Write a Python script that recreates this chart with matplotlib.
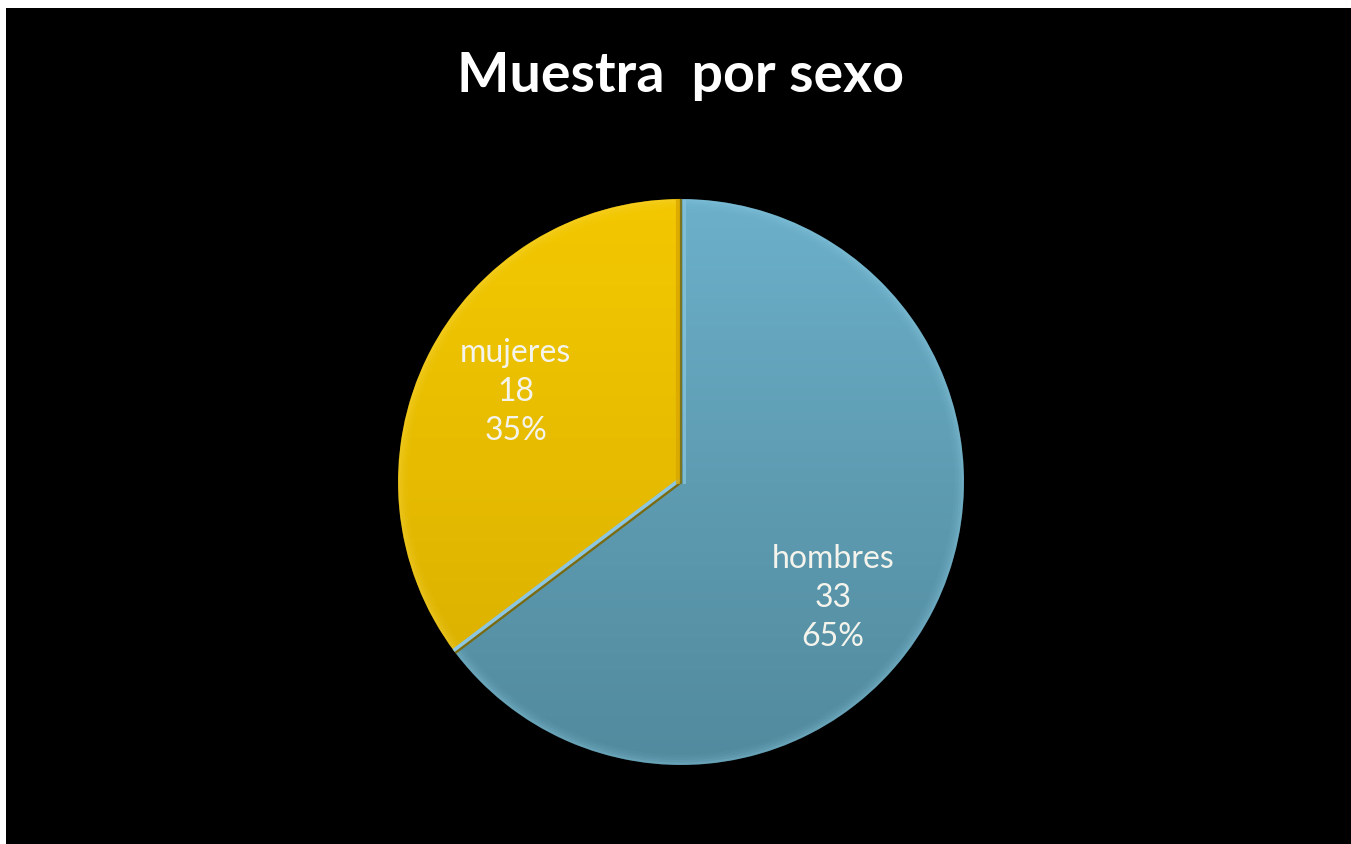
import numpy as np
import matplotlib
matplotlib.use("Agg")
import matplotlib.pyplot as plt
from matplotlib.patches import Rectangle, Wedge
from matplotlib.colors import LinearSegmentedColormap

# Sample composition by sex
categories = ["hombres", "mujeres"]
counts = [33, 18]
title = "Muestra  por sexo"

W, H = 1351, 844
fig = plt.figure(figsize=(W / 100 + 1e-4, H / 100 + 1e-4), dpi=100, facecolor="black")
ax = fig.add_axes([0, 0, 1, 1])
ax.set_facecolor("black")

# thin white frame on the top and left edges
fig.patches.append(Rectangle((0, 1 - 8 / H), 1, 8 / H, transform=fig.transFigure,
                             facecolor="white", edgecolor="none", zorder=10))
fig.patches.append(Rectangle((0, 0), 6 / W, 1, transform=fig.transFigure,
                             facecolor="white", edgecolor="none", zorder=10))

cx, cy, r = 681, H - 482, 283
base_colors = ["#5e9cb3", "#ecc000"]
grads = [
    LinearSegmentedColormap.from_list("blue", ["#528a9e", "#5e9cb2", "#6cb0ca"]),
    LinearSegmentedColormap.from_list("gold", ["#d6ad00", "#e6bb00", "#f3c800"]),
]
rim_colors = ["#8fcde3", "#f8d84a"]

wedges, _ = ax.pie(counts, startangle=90, counterclock=False, colors=base_colors,
                   center=(cx, cy), radius=r, frame=True,
                   wedgeprops=dict(linewidth=0))
ax.set_xlim(0, W)
ax.set_ylim(0, H)
ax.set_aspect("equal")
ax.axis("off")

# vertical shading inside each slice, with a soft light bevel at the rim
grad = np.linspace(0, 1, 256).reshape(-1, 1)
for w, cm, rc in zip(wedges, grads, rim_colors):
    im = ax.imshow(grad, cmap=cm, origin="lower", aspect="auto",
                   extent=(cx - r, cx + r, cy - r, cy + r), zorder=2,
                   interpolation="bilinear")
    im.set_clip_path(w)
    for k, a in enumerate([0.35, 0.22, 0.12, 0.06]):
        ring = Wedge((cx, cy), r - k * 2.5, w.theta1, w.theta2, width=2.5,
                     facecolor=rc, edgecolor="none", alpha=a, zorder=3)
        ax.add_patch(ring)

# soft outer edge
for k, a in enumerate([0.5, 0.3, 0.15]):
    ax.add_patch(plt.Circle((cx, cy), r + 0.8 + k * 1.2, fill=False,
                            edgecolor="black", linewidth=1.3, alpha=a, zorder=3))

# bevel along the slice boundaries
total = sum(counts)
theta_end = np.deg2rad(90 - 360 * counts[0] / total)
bx, by = cx + r * np.cos(theta_end), cy + r * np.sin(theta_end)
nx, ny = np.cos(theta_end + np.pi / 2), np.sin(theta_end + np.pi / 2)
ax.plot([cx, bx], [cy, by], color="#7a6a10", linewidth=2.2, zorder=4,
        solid_capstyle="butt")
ax.plot([cx - 2.6 * nx, bx - 2.6 * nx], [cy - 2.6 * ny, by - 2.6 * ny],
        color="#8cc6e0", linewidth=2.6, zorder=4, solid_capstyle="butt")
ax.plot([cx - 3, cx - 3], [cy, cy + r - 2], color="#d9a600", linewidth=3,
        alpha=0.8, zorder=4)
ax.plot([cx, cx], [cy, cy + r - 1], color="#7d7420", linewidth=1.6, zorder=4)
ax.plot([cx + 2.5, cx + 2.5], [cy, cy + r - 2], color="#86c3da", linewidth=2.2,
        alpha=0.8, zorder=4)

# slice labels: name, count and share
label_pos = [(-37.4, 0.675), (151.4, 0.665)]
for name, val, (ang, dist) in zip(categories, counts, label_pos):
    t = np.deg2rad(ang)
    ax.text(cx + dist * r * np.cos(t), cy + dist * r * np.sin(t),
            f"{name}\n{val}\n{100 * val / total:.0f}%",
            ha="center", va="center", color="#f4f4ec", fontsize=23,
            family="Lato", linespacing=1.36, zorder=5)

ax.text(680, H - 76, title, ha="center", va="center", color="white",
        fontsize=40, fontweight="bold", family="Lato", zorder=5)

fig.savefig("out.png", dpi=100, facecolor="black")
